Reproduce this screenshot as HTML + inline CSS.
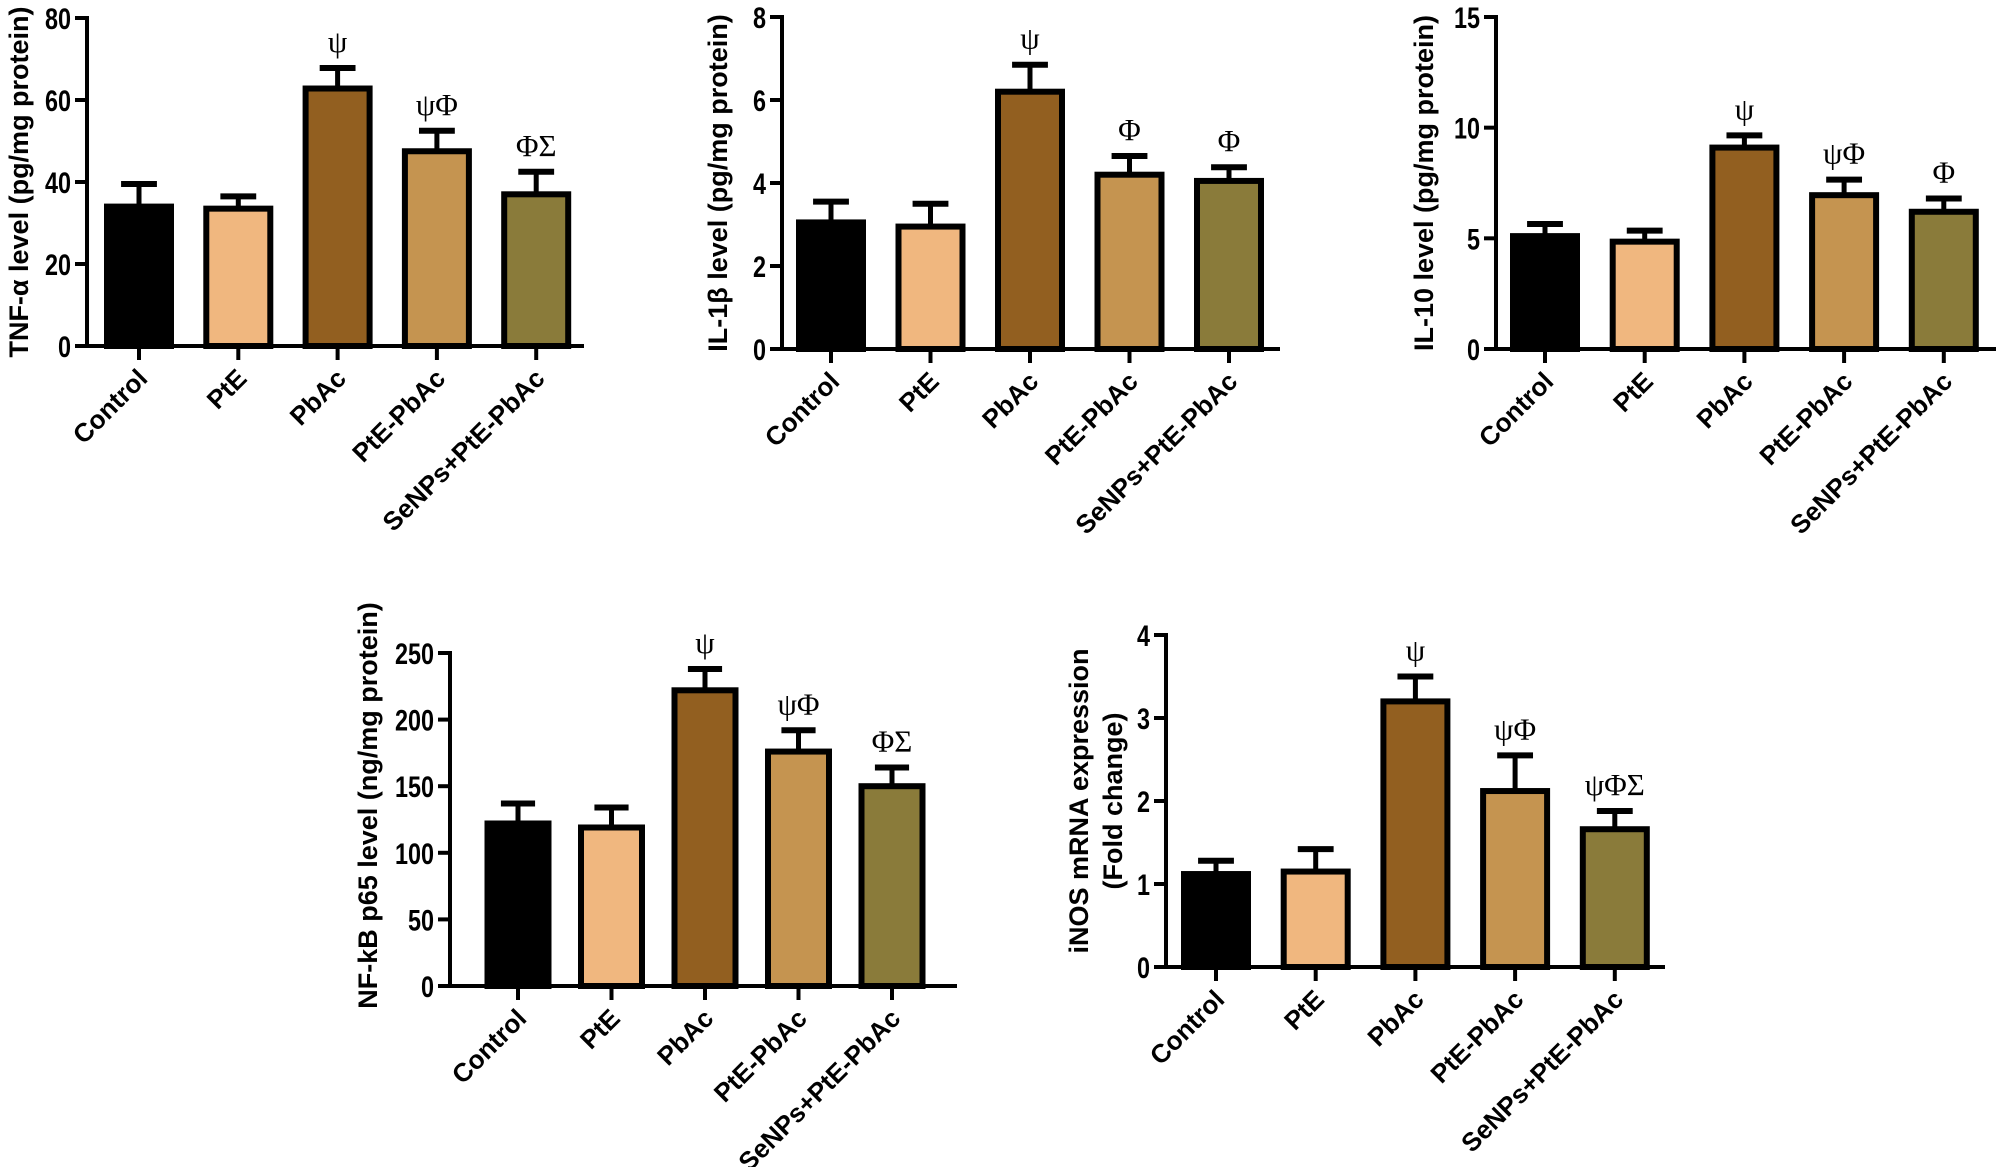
<!DOCTYPE html>
<html><head><meta charset="utf-8"><style>
html,body{margin:0;padding:0;background:#fff;}
svg{display:block;}
text{font-family:"Liberation Sans",sans-serif;}
.tick{font-weight:bold;font-size:30px;}
.cat{font-weight:bold;font-size:26px;}
.ylab{font-weight:bold;font-size:27px;}
.ann{font-family:"Liberation Serif","DejaVu Serif",serif;font-size:31px;}
</style></head><body>
<svg id="fig" width="2000" height="1167" viewBox="0 0 2000 1167" xmlns="http://www.w3.org/2000/svg"></svg>
<script>
const categories = ["Control","PtE","PbAc","PtE-PbAc","SeNPs+PtE-PbAc"];
const colors = ["#000000","#f0b77f","#925f20","#c59450","#8a7b3a"];
const tnfMeans = [34,33.5,62.8,47.5,37];
const tnfErr = [39.5,36.5,67.8,52.5,42.5];
const tnfTicks = [0,20,40,60,80];
const tnfAnn = ["","","ψ","ψΦ","ΦΣ"];
const il1Means = [3.05,2.95,6.2,4.2,4.05];
const il1Err = [3.55,3.5,6.85,4.65,4.38];
const il1Ticks = [0,2,4,6,8];
const il1Ann = ["","","ψ","Φ","Φ"];
const il10Means = [5.1,4.85,9.1,6.95,6.2];
const il10Err = [5.65,5.35,9.65,7.65,6.8];
const il10Ticks = [0,5,10,15];
const il10Ann = ["","","ψ","ψΦ","Φ"];
const nfkbMeans = [122,119,222,176,150];
const nfkbErr = [137,134,238,192,164];
const nfkbTicks = [0,50,100,150,200,250];
const nfkbAnn = ["","","ψ","ψΦ","ΦΣ"];
const inosMeans = [1.12,1.15,3.2,2.12,1.66];
const inosErr = [1.28,1.42,3.5,2.55,1.88];
const inosTicks = [0,1,2,3,4];
const inosAnn = ["","","ψ","ψΦ","ψΦΣ"];

const NS="http://www.w3.org/2000/svg";
const svg=document.getElementById('fig');
function mk(tag,attrs,parent){const e=document.createElementNS(NS,tag);for(const k in attrs)e.setAttribute(k,attrs[k]);(parent||svg).appendChild(e);return e;}

function chart(id,cfg,means,errs,ticks,ann){
  const g=mk('g',{});
  
  
  const max=ticks[ticks.length-1];
  const y=v=>cfg.y0-(v/max)*(cfg.y0-cfg.yTop);
  const x=i=>cfg.x0+cfg.off+i*cfg.step;
  means.forEach((m,i)=>{
    const bw=cfg.bw, cx=x(i);
    const eb=mk('line',{x1:cx,x2:cx,y1:y(m),y2:y(errs[i]),stroke:'#000','stroke-width':5},g);
    
    
    const cap=mk('line',{x1:cx-bw*0.28,x2:cx+bw*0.28,y1:y(errs[i]),y2:y(errs[i]),stroke:'#000','stroke-width':6},g);
    
    
    const r=mk('rect',{x:cx-bw/2,y:y(m),width:bw,height:cfg.y0-y(m),fill:colors[i],stroke:'#000','stroke-width':6},g);
    
    
    if(ann[i]){
      const t=mk('text',{x:cx,y:y(errs[i])-16,'text-anchor':'middle',class:'ann'},g);
      t.textContent=ann[i];
      
      
    }
    const tk=mk('line',{x1:cx,x2:cx,y1:cfg.y0,y2:cfg.y0+14,stroke:'#000','stroke-width':4},g);
    
    
    const lx=cx+10, ly=cfg.y0+34;
    const c=mk('text',{x:lx,y:ly,'text-anchor':'end',class:'cat',transform:`rotate(-45 ${lx} ${ly})`},g);
    c.textContent=categories[i];
    
    
  });
  const ya=mk('line',{x1:cfg.x0,x2:cfg.x0,y1:cfg.yTop-2,y2:cfg.y0+2,stroke:'#000','stroke-width':4},g);
  
  
  const xa=mk('line',{x1:cfg.x0-12,x2:cfg.xEnd,y1:cfg.y0,y2:cfg.y0,stroke:'#000','stroke-width':4},g);
  
  
  ticks.forEach(t=>{
    const l=mk('line',{x1:cfg.x0-12,x2:cfg.x0,y1:y(t),y2:y(t),stroke:'#000','stroke-width':4},g);
    
    
    const tx=mk('text',{x:0,y:0,'text-anchor':'end',class:'tick',transform:`translate(${cfg.x0-16} ${y(t)+11}) scale(0.78 1)`},g);
    tx.textContent=t;
    
    
  });
  const cy=(cfg.y0+cfg.yTop)/2+cfg.labDy;
  cfg.label.forEach((s,k)=>{
    const lx=cfg.labX+k*34;
    const t=mk('text',{x:lx,y:cy,'text-anchor':'middle',class:'ylab',transform:`rotate(-90 ${lx} ${cy})`},g);
    t.textContent=s;
    
    
  });
}
chart('tnf',{x0:87,off:52,step:99.3,bw:64,y0:346,yTop:18,xEnd:584,labX:28,labDy:0,label:["TNF-α level (pg/mg protein)"]},tnfMeans,tnfErr,tnfTicks,tnfAnn);
chart('il1b',{x0:782,off:49,step:99.5,bw:64,y0:349,yTop:17,xEnd:1280,labX:727,labDy:0,label:["IL-1β level (pg/mg protein)"]},il1Means,il1Err,il1Ticks,il1Ann);
chart('il10',{x0:1496,off:49,step:99.7,bw:64,y0:349,yTop:17,xEnd:1996,labX:1433,labDy:0,label:["IL-10 level (pg/mg protein)"]},il10Means,il10Err,il10Ticks,il10Ann);
chart('nfkb',{x0:450,off:68,step:93.5,bw:61,y0:986,yTop:653,xEnd:957,labX:377,labDy:-14,label:["NF-kB p65 level (ng/mg protein)"]},nfkbMeans,nfkbErr,nfkbTicks,nfkbAnn);
chart('inos',{x0:1166,off:50,step:99.7,bw:64,y0:967,yTop:635,xEnd:1665,labX:1088,labDy:0,label:["iNOS mRNA expression","(Fold change)"]},inosMeans,inosErr,inosTicks,inosAnn);
</script>
</body></html>
